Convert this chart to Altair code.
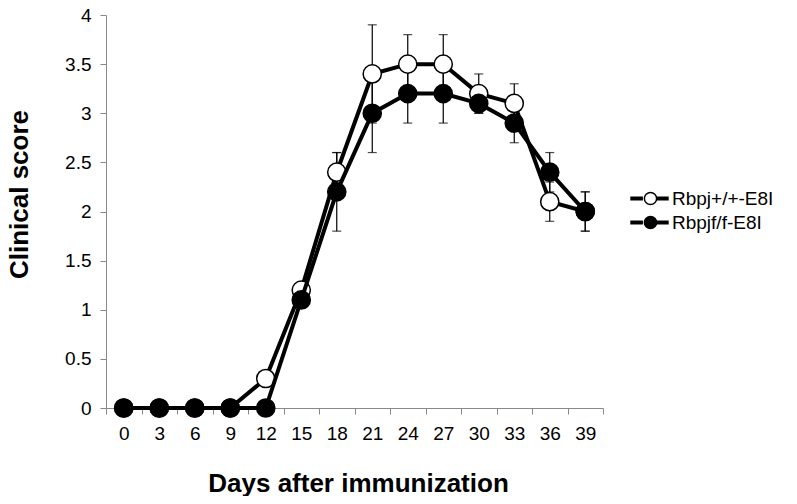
import altair as alt
import pandas as pd

days = [0, 3, 6, 9, 12, 15, 18, 21, 24, 27, 30, 33, 36, 39]
series_names = ["Rbpj+/+-E8I", "Rbpjf/f-E8I"]
wt_score = [0, 0, 0, 0, 0.3, 1.2, 2.4, 3.4, 3.5, 3.5, 3.2, 3.1, 2.1, 2.0]
wt_err = [0, 0, 0, 0, 0, 0, 0.2, 0.5, 0.3, 0.3, 0.2, 0.2, 0.2, 0.2]
ko_score = [0, 0, 0, 0, 0, 1.1, 2.2, 3.0, 3.2, 3.2, 3.1, 2.9, 2.4, 2.0]
ko_err = [0, 0, 0, 0, 0, 0, 0.4, 0.4, 0.3, 0.3, 0.1, 0.2, 0.2, 0.2]
y_ticks = [0, 0.5, 1, 1.5, 2, 2.5, 3, 3.5, 4]

rows = []
for name, sc, er in [(series_names[0], wt_score, wt_err), (series_names[1], ko_score, ko_err)]:
    for d, s, e in zip(days, sc, er):
        rows.append({"day": d, "series": name, "score": s, "lo": s - e, "hi": s + e})
df = pd.DataFrame(rows)

FONT = "Liberation Sans"
xenc = alt.X("day:O", sort=days, title="Days after immunization",
             scale=alt.Scale(paddingInner=0, paddingOuter=0),
             axis=alt.Axis(labelAngle=0, tickBand="extent", titleY=62, titleX=252,
                           labelPadding=10))
yscale = alt.Scale(domain=[0, 4], nice=False)
yaxis = alt.Axis(values=y_ticks, format=".2~f", title="Clinical score",
                 titleX=-74, titleY=179, grid=False, labelPadding=9)

base = alt.Chart(df)

err_data = base.transform_filter("datum.hi > datum.lo")
err_rule = err_data.mark_rule(color="black", strokeWidth=1.2).encode(
    x=xenc, y=alt.Y("lo:Q", scale=yscale, axis=yaxis), y2="hi:Q")
cap_hi = err_data.mark_tick(color="black", size=9, thickness=1.2).encode(
    x=xenc, y=alt.Y("hi:Q", scale=yscale))
cap_lo = err_data.mark_tick(color="black", size=9, thickness=1.2).encode(
    x=xenc, y=alt.Y("lo:Q", scale=yscale))

line_legend = alt.Legend(
    title=None, orient="none", legendX=534, legendY=174,
    symbolType="M-3.2,0H-1.1M1.1,0H3.2", symbolSize=144, symbolStrokeWidth=4,
    symbolStrokeColor="black", labelOpacity=0, labelFontSize=19, labelFont=FONT,
    labelOffset=12, rowPadding=4, padding=0)
point_legend = alt.Legend(
    title=None, orient="none", legendX=535, legendY=174,
    symbolType="circle", symbolSize=150, symbolStrokeWidth=1.5,
    symbolStrokeColor="black", labelFontSize=19, labelFont=FONT, labelColor="black",
    labelOffset=12, rowPadding=4, padding=0)

layers = [err_rule, cap_hi, cap_lo]
for name in series_names:
    sub = base.transform_filter(alt.datum.series == name)
    line = sub.transform_calculate(line_series="datum.series").mark_line(strokeWidth=4).encode(
        x=xenc, y=alt.Y("score:Q", scale=yscale),
        stroke=alt.Stroke("line_series:N", sort="ascending",
                          scale=alt.Scale(range=["black", "black"]),
                          legend=line_legend))
    pts = sub.mark_point(shape="circle", filled=True, size=330, stroke="black",
                         strokeWidth=1.5, opacity=1).encode(
        x=xenc, y=alt.Y("score:Q", scale=yscale),
        fill=alt.Fill("series:N", sort=series_names,
                      scale=alt.Scale(domain=series_names, range=["white", "black"]),
                      legend=point_legend))
    layers += [line, pts]

chart = alt.layer(*layers).properties(
    width=497, height=393,
    autosize=alt.AutoSizeParams(type="none"),
    padding={"left": 98, "top": 7, "right": 186, "bottom": 88},
    background="white",
).configure_view(stroke=None).configure_axis(
    domainColor="#888888", tickColor="#888888", tickSize=6, domainWidth=1, tickWidth=1,
    labelFont=FONT, labelFontSize=19, labelColor="black",
    titleFont=FONT, titleFontSize=26, titleFontWeight="bold", titleColor="black",
)

chart.save("out.html", embed_options={"renderer": "svg", "actions": False})
